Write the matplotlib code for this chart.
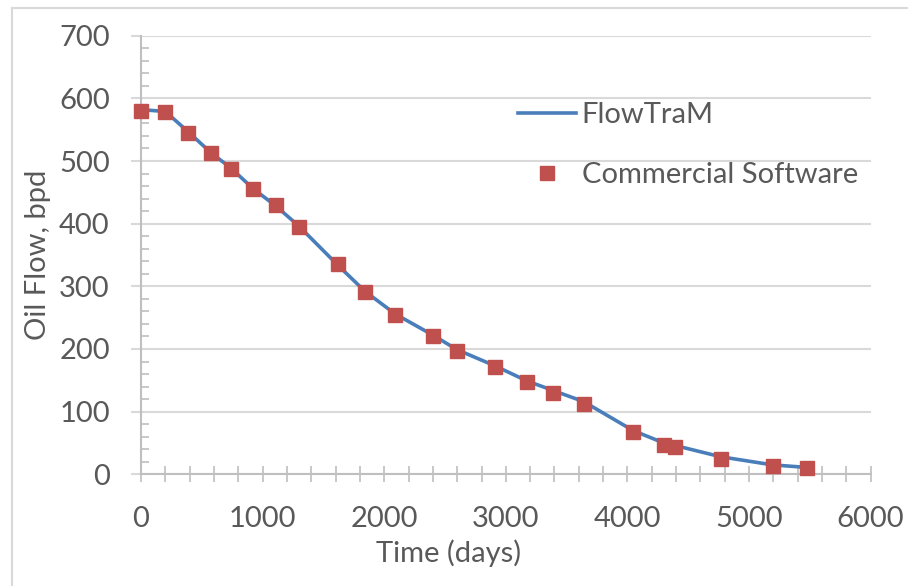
import numpy as np
import matplotlib.pyplot as plt
from matplotlib.ticker import MultipleLocator
from matplotlib.lines import Line2D

# FlowTraM simulation curve
flow_days = [0, 200, 386, 576, 738, 921, 1110, 1299, 1617, 1842, 2089, 2401,
             2598, 2911, 3174, 3385, 3640, 4045, 4298, 4391, 4767, 5194, 5474]
flow_bpd = [582, 579, 547, 513, 489, 456, 428, 396, 334, 292, 256, 222,
            199, 173, 149, 134, 116, 70, 50, 46, 28, 15, 11]

# commercial simulator results
comm_days = [0, 200, 386, 576, 738, 921, 1110, 1299, 1617, 1842, 2089, 2401,
             2598, 2911, 3174, 3385, 3640, 4045, 4298, 4391, 4767, 5194, 5474]
comm_bpd = [580, 579, 545, 512, 488, 455, 430, 394, 335, 291, 254, 221,
            197, 172, 148, 130, 113, 68, 47, 44, 25, 14, 10.5]

plt.rcParams['font.family'] = ['Lato', 'DejaVu Sans']
txt = '#595959'
grid = '#d9d9d9'
axc = '#bfbfbf'
fs = 21

fig = plt.figure(figsize=(9.08, 5.86), dpi=100)
ax = fig.add_axes([0.1553, 0.1906, 0.8036, 0.7485])

ax.plot(flow_days, flow_bpd, color='#4a7ebb', lw=2.6, label='FlowTraM', zorder=3,
        clip_on=False)
ax.plot(comm_days, comm_bpd, ls='none', marker='s', ms=10, color='#c0504d',
        label='Commercial Software', zorder=4, clip_on=False)

ax.set_xlim(0, 6000)
ax.set_ylim(0, 700)
ax.xaxis.set_major_locator(MultipleLocator(1000))
ax.xaxis.set_minor_locator(MultipleLocator(200))
ax.yaxis.set_major_locator(MultipleLocator(100))
ax.yaxis.set_minor_locator(MultipleLocator(20))

ax.grid(axis='y', which='major', color=grid, lw=1.5, zorder=0)
ax.set_axisbelow(True)

for s in ['top', 'right']:
    ax.spines[s].set_visible(False)
for s in ['left', 'bottom']:
    ax.spines[s].set_color(axc)
    ax.spines[s].set_linewidth(1.5)

ax.tick_params(axis='y', which='major', direction='out', length=7.5, width=1.5,
               color=grid, labelsize=fs, labelcolor=txt, pad=15)
ax.tick_params(axis='y', which='minor', direction='in', length=6, width=1.2, color=axc)
ax.tick_params(axis='x', which='major', direction='inout', length=12, width=1.2,
               color=axc, labelsize=fs, labelcolor=txt, pad=17)
ax.tick_params(axis='x', which='minor', direction='inout', length=11, width=1.2, color=axc)

ax.set_xlabel('Time (days)', fontsize=fs, color=txt)
ax.xaxis.set_label_coords(0.422, -0.148)
ax.set_ylabel('Oil Flow, bpd', fontsize=fs, color=txt, labelpad=6)

ax.legend(loc='upper left', bbox_to_anchor=(0.50, 0.875), frameon=False,
          fontsize=fs, labelcolor=txt, handlelength=2.0, handletextpad=0.2,
          labelspacing=1.15, borderaxespad=0)

# chart area border
fig.add_artist(Line2D([12 / 908, 12 / 908], [0, 1 - 8 / 586], color='#d9d9d9', lw=1.5))
fig.add_artist(Line2D([12 / 908, 1], [1 - 8 / 586, 1 - 8 / 586], color='#d9d9d9', lw=1.5))

fig.savefig('out.png', dpi=100)
